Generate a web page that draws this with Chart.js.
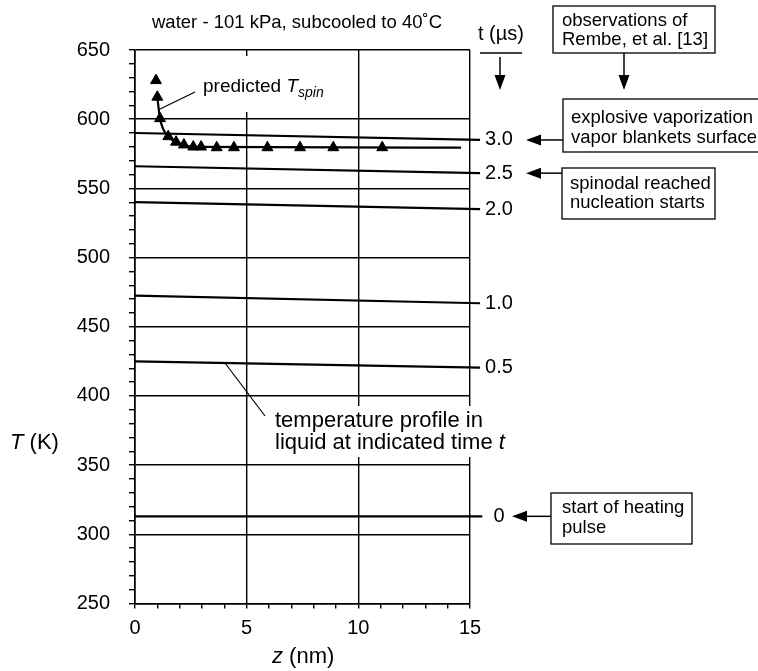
<!DOCTYPE html>
<html lang="en">
<head>
  <meta charset="UTF-8" />
  <title>Water subcooled - temperature profiles</title>
  <style>
    body { margin: 0; background: #fff; }
    canvas { display: block; }
  </style>
  <script src="https://cdn.jsdelivr.net/npm/chart.js"></script>
</head>
<body>
  <canvas id="chart" width="758" height="671"></canvas>
  <script>
    // time labels (µs) for each temperature profile, and the profile end points
    const timeLabels = ['3.0', '2.5', '2.0', '1.0', '0.5', '0'];
    const profileStartT = [590, 566, 540, 472.5, 425, 313];
    const profileEndT = [585, 561, 535, 467, 420.5, 313];
    const profileEndZ = [15.45, 15.45, 15.45, 15.45, 15.45, 15.55];

    // predicted T_spin (triangles)
    const spinZ = [0.94, 1.0, 1.12, 1.49, 1.84, 2.19, 2.61, 2.96, 3.66, 4.43, 5.93, 7.39, 8.88, 11.07];
    const spinT = [628, 616, 600.5, 587.5, 583.5, 581.5, 580, 580, 579.5, 579.5, 579.5, 579.5, 579.5, 579.5];

    // smooth curve drawn through the spinodal points
    const curveZ = [1.0, 1.12, 1.49, 1.84, 2.19, 2.61, 14.6];
    const curveT = [616, 600.5, 587.5, 583.5, 581.5, 580, 579.5];

    const FONT = '"Liberation Sans", Arial, Helvetica, sans-serif';

    const datasets = [];
    timeLabels.forEach((t, i) => {
      datasets.push({
        label: 't = ' + t,
        data: [{ x: 0, y: profileStartT[i] }, { x: profileEndZ[i], y: profileEndT[i] }],
        borderColor: '#000',
        borderWidth: 2.2,
        pointRadius: 0,
        clip: false
      });
    });
    datasets.push({
      label: 'spin curve',
      data: curveZ.map((z, i) => ({ x: z, y: curveT[i] })),
      borderColor: '#000',
      borderWidth: 2.2,
      pointRadius: 0,
      cubicInterpolationMode: 'monotone'
    });
    datasets.push({
      label: 'predicted Tspin',
      data: spinZ.map((z, i) => ({ x: z, y: spinT[i] })),
      showLine: false,
      pointStyle: 'triangle',
      pointRadius: 6.3,
      backgroundColor: '#000',
      borderColor: '#000',
      borderWidth: 1
    });

    // draw text pieces in a row, each with its own font and vertical shift
    function richText(ctx, x, y, parts) {
      ctx.textAlign = 'left';
      ctx.textBaseline = 'alphabetic';
      parts.forEach(p => {
        ctx.font = p.font;
        ctx.fillText(p.text, x, y + (p.dy || 0));
        x += ctx.measureText(p.text).width;
      });
    }

    function arrow(ctx, x1, y1, x2, y2) {
      const ang = Math.atan2(y2 - y1, x2 - x1);
      const len = 15, half = 5.5;
      ctx.beginPath();
      ctx.moveTo(x1, y1);
      ctx.lineTo(x2 - len * Math.cos(ang), y2 - len * Math.sin(ang));
      ctx.stroke();
      ctx.beginPath();
      ctx.moveTo(x2, y2);
      ctx.lineTo(x2 - len * Math.cos(ang) - half * Math.sin(ang), y2 - len * Math.sin(ang) + half * Math.cos(ang));
      ctx.lineTo(x2 - len * Math.cos(ang) + half * Math.sin(ang), y2 - len * Math.sin(ang) - half * Math.cos(ang));
      ctx.closePath();
      ctx.fill();
    }

    function box(ctx, x, y, w, h, lines, tx, baselines) {
      ctx.fillStyle = '#fff';
      ctx.fillRect(x, y, w, h);
      ctx.strokeStyle = '#000';
      ctx.lineWidth = 1.3;
      ctx.strokeRect(x, y, w, h);
      ctx.fillStyle = '#000';
      ctx.font = '18.5px ' + FONT;
      ctx.textAlign = 'left';
      ctx.textBaseline = 'alphabetic';
      lines.forEach((l, i) => ctx.fillText(l, tx, baselines[i]));
    }

    const annotations = {
      id: 'annotations',
      beforeDatasetsDraw(chart) {
        // white backgrounds behind the in-plot labels hide the grid
        const ctx = chart.ctx;
        ctx.save();
        ctx.fillStyle = '#fff';
        ctx.fillRect(199, 56, 128, 56);
        ctx.fillRect(270, 406, 242, 51);
        ctx.restore();
      },
      afterDraw(chart) {
        const ctx = chart.ctx;
        const area = chart.chartArea;
        ctx.save();
        ctx.fillStyle = '#000';
        ctx.strokeStyle = '#000';

        // title
        ctx.font = '18.5px ' + FONT;
        ctx.textAlign = 'left';
        ctx.fillText('water - 101 kPa, subcooled to 40˚C', 152, 28);

        // axis titles
        richText(ctx, 10, 449, [
          { text: 'T', font: 'italic 22px ' + FONT },
          { text: ' (K)', font: '22px ' + FONT }
        ]);
        richText(ctx, 272, 663, [
          { text: 'z', font: 'italic 22px ' + FONT },
          { text: ' (nm)', font: '22px ' + FONT }
        ]);

        // time labels at the end of each profile
        ctx.font = '20px ' + FONT;
        ctx.textAlign = 'center';
        ctx.textBaseline = 'middle';
        const endY = [];
        timeLabels.forEach((t, i) => {
          const pt = chart.getDatasetMeta(i).data[1];
          endY.push(pt.y);
          ctx.fillText(t, area.right + 29, pt.y);
        });

        // t (µs) header with underline and arrow
        ctx.textAlign = 'left';
        ctx.textBaseline = 'alphabetic';
        ctx.fillText('t (µs)', 478, 40);
        ctx.lineWidth = 1.5;
        ctx.beginPath();
        ctx.moveTo(480, 53);
        ctx.lineTo(522, 53);
        ctx.stroke();
        arrow(ctx, 500, 57, 500, 90);

        // predicted T_spin label
        ctx.lineWidth = 1.2;
        ctx.beginPath();
        ctx.moveTo(158, 110);
        ctx.lineTo(195, 92);
        ctx.stroke();
        richText(ctx, 203, 92, [
          { text: 'predicted ', font: '19px ' + FONT },
          { text: 'T', font: 'italic 19px ' + FONT },
          { text: 'spin', font: 'italic 14px ' + FONT, dy: 5 }
        ]);

        // temperature profile label
        ctx.beginPath();
        ctx.moveTo(225, 363);
        ctx.lineTo(265, 416);
        ctx.stroke();
        ctx.font = '22px ' + FONT;
        ctx.fillText('temperature profile in', 275, 427);
        richText(ctx, 275, 449, [
          { text: 'liquid at indicated time ', font: '22px ' + FONT },
          { text: 't', font: 'italic 22px ' + FONT }
        ]);

        // observation boxes
        box(ctx, 553, 6, 162, 47, ['observations of', 'Rembe, et al. [13]'], 562, [26, 45]);
        ctx.lineWidth = 1.5;
        arrow(ctx, 624, 53, 624, 90);

        box(ctx, 563, 99, 210, 53, ['explosive vaporization', 'vapor blankets surface'], 571, [123, 143]);
        ctx.lineWidth = 1.5;
        arrow(ctx, 563, endY[0], 526, endY[0]);

        box(ctx, 562, 168, 153, 51, ['spinodal reached', 'nucleation starts'], 570, [189, 208]);
        ctx.lineWidth = 1.5;
        arrow(ctx, 562, endY[1], 526, endY[1]);

        box(ctx, 551, 493, 141, 51, ['start of heating', 'pulse'], 562, [513, 533]);
        ctx.lineWidth = 1.5;
        arrow(ctx, 551, endY[5], 512, endY[5]);

        ctx.restore();
      }
    };

    const gridColor = step => c => (c.tick && c.tick.value % step === 0) ? '#000' : 'rgba(0,0,0,0)';

    new Chart(document.getElementById('chart'), {
      type: 'line',
      data: { datasets: datasets },
      options: {
        responsive: false,
        animation: false,
        events: [],
        layout: { padding: { top: 50, right: 288, left: 0, bottom: 0 } },
        plugins: { legend: { display: false }, tooltip: { enabled: false } },
        scales: {
          x: {
            type: 'linear',
            min: 0,
            max: 15,
            afterFit: s => { s.height = 67.5; },
            ticks: {
              stepSize: 1,
              autoSkip: false,
              maxRotation: 0,
              padding: 8,
              color: '#000',
              font: { family: FONT, size: 20 },
              callback: v => (v % 5 === 0 ? v : '')
            },
            grid: { color: gridColor(5), tickColor: '#000', tickLength: 5, lineWidth: 1.4 },
            border: { color: '#000', width: 1.6 }
          },
          y: {
            type: 'linear',
            min: 250,
            max: 650,
            afterFit: s => { s.width = 135; },
            ticks: {
              stepSize: 10,
              autoSkip: false,
              padding: 19,
              color: '#000',
              font: { family: FONT, size: 20 },
              callback: v => (v % 50 === 0 ? v : '')
            },
            grid: { color: gridColor(50), tickColor: '#000', tickLength: 6, lineWidth: 1.4 },
            border: { color: '#000', width: 1.6 }
          }
        }
      },
      plugins: [annotations]
    });
  </script>
</body>
</html>
